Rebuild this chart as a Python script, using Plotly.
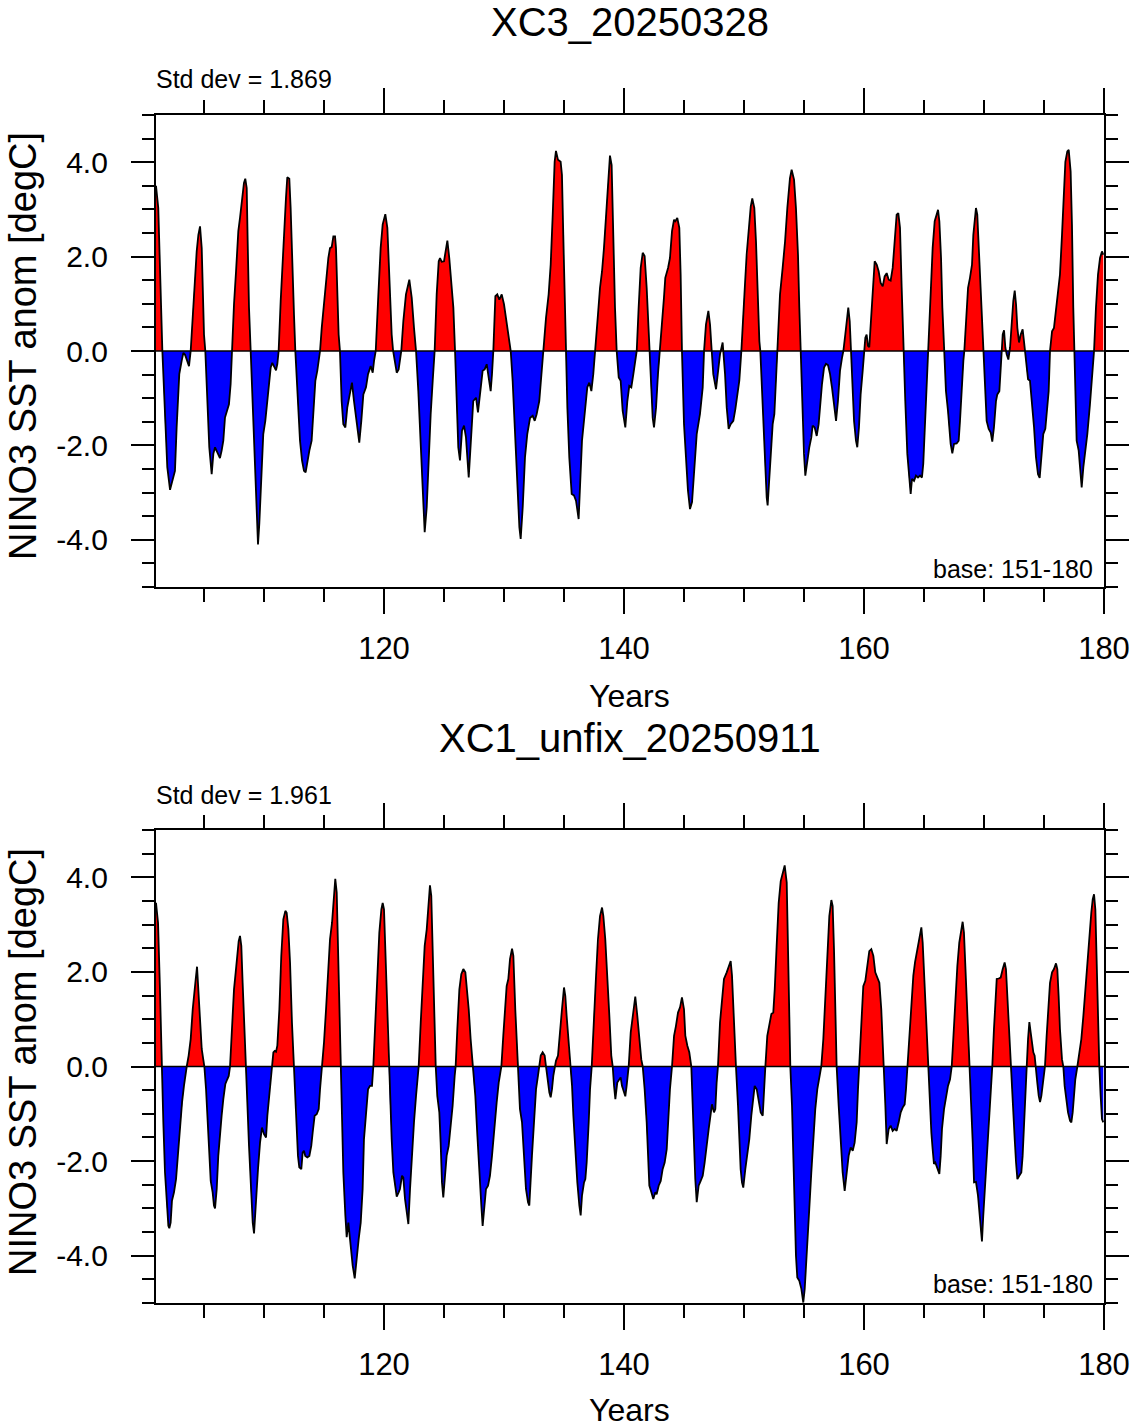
import numpy as np
import plotly.graph_objects as go

# ---------------- data (years, Nino3 SST anomaly degC) ----------------
t1 = [101.0, 101.19, 101.53, 101.75, 101.94, 102.17, 102.39, 102.58, 102.72, 102.94, 103.14, 103.28, 103.42, 103.61, 103.75, 103.89, 104.11, 104.25, 104.39, 104.53, 104.67, 104.81, 104.89, 105.0, 105.11,
      105.28, 105.44, 105.64, 105.78, 105.92, 106.19, 106.33, 106.47, 106.61, 106.75, 106.89, 107.08, 107.22, 107.33, 107.5, 107.67, 107.86, 108.0, 108.17, 108.33, 108.44, 108.56, 108.64, 108.75, 108.89,
      109.06, 109.22, 109.39, 109.5, 109.61, 109.78, 109.94, 110.11, 110.22, 110.36, 110.56, 110.69, 110.83, 111.0, 111.11, 111.22, 111.39, 111.56, 111.69, 111.83, 111.94, 112.11, 112.22, 112.39, 112.5, 112.61,
      112.81, 113.0, 113.17, 113.33, 113.47, 113.61, 113.78, 113.97, 114.11, 114.28, 114.44, 114.56, 114.67, 114.81, 114.94, 115.08, 115.22, 115.36, 115.5, 115.64, 115.78, 115.92, 116.0, 116.11, 116.22, 116.33,
      116.47, 116.61, 116.78, 116.94, 117.17, 117.33, 117.5, 117.72, 117.94, 118.11, 118.28, 118.5, 118.67, 118.89, 119.06, 119.17, 119.31, 119.53, 119.72, 119.89, 120.11, 120.28, 120.44, 120.64, 120.76,
      120.92, 121.06, 121.22, 121.33, 121.44, 121.61, 121.83, 122.11, 122.31, 122.5, 122.67, 122.86, 123.06, 123.22, 123.39, 123.56, 123.72, 123.89, 124.06, 124.22, 124.39, 124.56, 124.67, 124.81, 125.0, 125.17, 125.28, 125.44, 125.61, 125.78, 125.92,
      126.06, 126.19, 126.33, 126.5, 126.67, 126.83, 127.06, 127.22, 127.44, 127.67, 127.83, 128.0, 128.22, 128.39, 128.56, 128.72, 128.89, 129.0, 129.11, 129.28, 129.44, 129.61, 129.81, 130.0, 130.22, 130.44, 130.56,
      130.72, 130.92, 131.11, 131.28, 131.39, 131.56, 131.75, 131.94, 132.17, 132.39, 132.56, 132.72, 132.94, 133.11, 133.28, 133.5, 133.72, 133.89, 134.06, 134.22, 134.33, 134.5, 134.72, 134.83, 134.94, 135.06, 135.14,
      135.28, 135.44, 135.64, 135.83, 136.0, 136.22, 136.33, 136.5, 136.72, 136.94, 137.11, 137.28, 137.44, 137.61, 137.83, 138.0, 138.17, 138.33, 138.5, 138.67, 138.83, 138.97, 139.11, 139.25, 139.39,
      139.56, 139.72, 139.89, 140.11, 140.28, 140.44, 140.61, 140.78, 140.94, 141.06, 141.22, 141.39, 141.56, 141.72, 141.89, 142.03, 142.11, 142.28, 142.39, 142.5, 142.67, 142.83, 143.0, 143.17, 143.33, 143.44, 143.67, 143.83, 144.0, 144.17, 144.28, 144.44, 144.61, 144.72, 144.83,
      145.0, 145.17, 145.33, 145.5, 145.67, 145.83, 146.06, 146.33, 146.56, 146.67, 146.83, 147.03, 147.17, 147.31, 147.44, 147.67, 147.83, 148.0, 148.22, 148.42, 148.56, 148.72, 148.89, 149.11, 149.28, 149.44, 149.61, 149.78, 149.94, 150.08, 150.22, 150.39, 150.56, 150.69, 150.86, 151.0, 151.14, 151.28, 151.36,
      151.5, 151.61, 151.75, 151.89, 151.97, 152.11, 152.25, 152.39, 152.53, 152.67, 152.81, 153.0, 153.22, 153.42, 153.61, 153.83, 153.97, 154.17, 154.33, 154.5, 154.61, 154.72, 154.89, 155.0, 155.11, 155.28, 155.44, 155.61, 155.72, 155.89, 156.06, 156.22, 156.33, 156.5, 156.67, 156.83, 157.0, 157.17, 157.33, 157.5, 157.67, 157.83, 158.0, 158.17, 158.28,
      158.44, 158.58, 158.69, 158.81, 158.92, 159.06, 159.17, 159.33, 159.44, 159.58, 159.72, 159.89, 160.0, 160.11, 160.22, 160.33, 160.44, 160.56, 160.72, 160.89, 161.06, 161.22, 161.39, 161.56, 161.72, 161.89, 162.06, 162.22, 162.39, 162.56, 162.72, 162.86, 163.0, 163.14, 163.28,
      163.44, 163.61, 163.78, 163.89, 164.0, 164.17, 164.33, 164.5, 164.67, 164.83, 164.94, 165.08, 165.22, 165.36, 165.56, 165.72, 165.89, 166.06, 166.17, 166.28, 166.42, 166.53, 166.67, 166.83, 167.0, 167.11, 167.22, 167.36, 167.5, 167.72, 167.89, 168.0, 168.14, 168.28, 168.36,
      168.5, 168.67, 168.83, 169.0, 169.11, 169.22, 169.33, 169.44, 169.56, 169.72, 169.89, 169.97, 170.11, 170.22, 170.39, 170.56, 170.69, 170.83, 171.0, 171.11, 171.28, 171.39, 171.47, 171.56, 171.67, 171.78, 171.89, 172.03, 172.17, 172.31, 172.44, 172.56, 172.67, 172.78, 172.92, 173.06, 173.22, 173.33, 173.42,
      173.56, 173.67, 173.83, 174.0, 174.17, 174.33, 174.5, 174.64, 174.78, 174.94, 175.11, 175.22, 175.39, 175.5, 175.67, 175.83, 176.0, 176.17, 176.33, 176.5, 176.67, 176.78, 176.94, 177.06, 177.22, 177.33, 177.44, 177.53, 177.61, 177.72, 177.89, 178.0, 178.14, 178.28, 178.44, 178.61, 178.83, 179.0, 179.17, 179.33, 179.5, 179.67, 179.83, 179.94]
v1 = [3.5, 3.03, 0, -1.55, -2.46, -2.94, -2.75, -2.54, -1.62, -0.49, -0.21, -0.04, -0.08, -0.21, -0.32, 0, 1.06, 1.62, 2.11, 2.46, 2.64, 2.18, 1.2, 0.35, 0,
      -0.99, -2.04, -2.61, -2.18, -2.04, -2.18, -2.27, -2.11, -1.9, -1.41, -1.27, -1.13, -0.7, 0, 0.99, 1.69, 2.54, 2.82, 3.17, 3.56, 3.65, 3.45, 2.32, 0.92, 0,
      -1.2, -2.25, -3.45, -4.1, -3.66, -2.68, -1.76, -1.48, -1.2, -0.85, -0.35, -0.25, -0.32, -0.41, -0.28, 0, 1.06, 2.04, 2.64, 3.24, 3.68, 3.65, 3.03, 1.9, 0.77, 0,
      -1.06, -1.9, -2.32, -2.54, -2.57, -2.32, -2.11, -1.9, -1.34, -0.63, -0.42, -0.21, 0, 0.49, 0.85, 1.2, 1.62, 1.97, 2.18, 2.2, 2.43, 2.43, 2.18, 1.2, 0.35, 0,
      -1.06, -1.55, -1.62, -1.2, -0.85, -0.67, -1.06, -1.48, -1.94, -1.48, -0.92, -0.77, -0.49, -0.32, -0.46, -0.21, 0, 1.2, 2.18, 2.68, 2.9, 2.61, 1.48, 0.35, 0,
      -0.21, -0.46, -0.39, -0.21, 0, 0.63, 1.2, 1.51, 1.13, 0.49, 0, -0.85, -1.9, -2.96, -3.84, -3.31, -2.25, -1.34, -0.63, 0, 1.2, 1.9, 1.97, 1.89, 1.9, 2.18, 2.34, 1.97, 1.48, 0.92, 0,
      -1.2, -2.04, -2.32, -1.69, -1.58, -1.83, -2.68, -1.9, -1.06, -0.99, -1.3, -0.92, -0.42, -0.39, -0.28, -0.56, -0.85, -0.49, 0, 1.16, 1.2, 1.09, 1.2, 0.99, 0.63, 0.21, 0,
      -0.63, -1.76, -2.96, -3.73, -3.98, -3.31, -2.25, -1.76, -1.42, -1.37, -1.48, -1.34, -1.06, -0.49, 0, 0.7, 1.2, 1.83, 2.89, 4.01, 4.24, 4.05, 4.01, 3.73, 2.46, 0.92, 0,
      -1.2, -2.25, -3.03, -3.06, -3.17, -3.56, -2.96, -1.9, -1.34, -0.77, -0.67, -0.85, -0.49, 0, 0.77, 1.34, 1.69, 2.18, 2.89, 3.59, 4.14, 3.94, 2.32, 0.92, 0,
      -0.56, -0.63, -1.27, -1.62, -1.06, -0.74, -0.77, -0.49, -0.21, 0, 0.92, 1.76, 2.08, 2.01, 1.34, 0.49, 0, -0.99, -1.41, -1.62, -1.2, -0.49, 0, 0.63, 1.13, 1.55, 1.76, 1.97, 2.54, 2.78, 2.75, 2.82, 2.61, 1.62, 0,
      -1.55, -2.32, -2.96, -3.35, -3.2, -2.61, -1.76, -1.34, -0.77, 0, 0.56, 0.85, 0.56, 0, -0.49, -0.81, -0.42, -0.07, 0.18, -0.49, -1.2, -1.65, -1.55, -1.48, -1.23, -0.92, -0.63, 0, 0.92, 1.41, 2.04, 2.61, 3.06, 3.23, 3.03, 2.32, 1.2, 0.21, 0,
      -0.85, -1.62, -2.46, -3.1, -3.27, -2.61, -1.97, -1.55, -1.34, -0.63, 0, 1.2, 1.76, 2.32, 3.03, 3.66, 3.84, 3.63, 3.03, 2.04, 0.92, 0, -1.2, -2.18, -2.64, -2.29, -2.04, -1.83, -1.58, -1.62, -1.8, -1.55, -1.2, -0.7, -0.35, -0.27, -0.3, -0.49, -0.77, -1.2, -1.48, -1.06, -0.42, -0.14, 0,
      0.35, 0.77, 0.92, 0.63, 0, -0.7, -1.48, -1.9, -2.04, -1.62, -0.92, -0.42, 0, 0.28, 0.35, 0.11, 0.08, 0.56, 1.34, 1.9, 1.83, 1.69, 1.44, 1.37, 1.58, 1.65, 1.51, 1.49, 1.76, 2.39, 2.89, 2.92, 2.61, 1.34, 0,
      -1.06, -2.18, -2.82, -3.03, -2.71, -2.75, -2.64, -2.68, -2.64, -2.68, -2.39, -1.55, -0.7, 0, 1.2, 2.18, 2.75, 2.89, 2.99, 2.75, 1.97, 0.92, 0, -0.85, -1.27, -1.69, -1.97, -2.17, -1.97, -1.96, -1.9, -1.48, -0.77, -0.21, 0,
      0.63, 1.34, 1.55, 1.83, 2.46, 2.82, 3.03, 2.89, 2.18, 1.2, 0.35, 0, -0.92, -1.48, -1.65, -1.73, -1.92, -1.62, -1.06, -0.92, -0.85, -0.35, 0, 0.35, 0.44, 0.07, -0.07, -0.18, 0.07, 0.63, 1.06, 1.28, 0.99, 0.49, 0.18, 0.35, 0.46, 0.21, 0,
      -0.42, -0.6, -0.63, -1.06, -1.62, -2.25, -2.61, -2.69, -2.32, -1.76, -1.65, -1.34, -0.85, 0, 0.42, 0.49, 0.92, 1.27, 1.62, 2.46, 3.45, 4.01, 4.23, 4.26, 3.8, 2.68, 0.92, 0, -0.85, -1.9, -2.11, -2.46, -2.89, -2.46, -2.11, -1.76, -1.13, -0.63, 0, 0.92, 1.62, 1.97, 2.11, 2.04]

t2 = [101.0, 101.17, 101.33, 101.47, 101.61, 101.75, 101.89, 102.03, 102.11, 102.22, 102.33, 102.5, 102.67, 102.83, 103.0, 103.17, 103.33, 103.5, 103.56, 103.72, 103.89, 104.06, 104.17, 104.31, 104.42, 104.56, 104.67, 104.81, 104.94, 105.03,
      105.17, 105.33, 105.44, 105.56, 105.72, 105.83, 105.92, 106.06, 106.19, 106.33, 106.47, 106.61, 106.78, 106.94, 107.06, 107.17, 107.33, 107.5, 107.64, 107.78, 107.89, 108.0, 108.11, 108.22, 108.33, 108.47,
      108.61, 108.75, 108.89, 109.06, 109.17, 109.33, 109.5, 109.67, 109.83, 110.0, 110.17, 110.28, 110.44, 110.56, 110.67, 110.78, 110.89, 111.0, 111.11, 111.28, 111.44, 111.61, 111.78, 111.89, 112.03, 112.17, 112.33, 112.5,
      112.67, 112.83, 112.94, 113.11, 113.22, 113.33, 113.44, 113.61, 113.78, 113.94, 114.06, 114.22, 114.39, 114.56, 114.67, 114.83, 115.0, 115.17, 115.33, 115.5, 115.67, 115.83, 115.94, 116.06, 116.17, 116.28, 116.39,
      116.5, 116.61, 116.78, 116.89, 117.03, 117.22, 117.39, 117.56, 117.72, 117.89, 118.06, 118.22, 118.33, 118.5, 118.67, 118.83, 119.0, 119.11, 119.28, 119.44, 119.61, 119.78, 119.89, 120.0, 120.11, 120.22, 120.39,
      120.5, 120.64, 120.78, 120.94, 121.06, 121.22, 121.33, 121.5, 121.61, 121.75, 121.89, 122.03, 122.17, 122.31, 122.5, 122.67, 122.89, 123.06, 123.22, 123.39, 123.56, 123.72, 123.83, 123.94, 124.06, 124.17, 124.31,
      124.44, 124.61, 124.72, 124.83, 124.94, 125.06, 125.22, 125.39, 125.56, 125.72, 125.89, 125.97, 126.11, 126.28, 126.44, 126.61, 126.78, 126.89, 127.06, 127.22, 127.39,
      127.5, 127.61, 127.78, 127.94, 128.11, 128.22, 128.33, 128.5, 128.67, 128.83, 129.0, 129.17, 129.39, 129.56, 129.78, 129.94, 130.11, 130.22, 130.36, 130.5, 130.67, 130.78, 130.94, 131.11, 131.19,
      131.33, 131.5, 131.67, 131.83, 132.0, 132.11, 132.33, 132.5, 132.67, 132.83, 132.94, 133.06, 133.22, 133.39, 133.5, 133.67, 133.78, 133.89, 134.0, 134.11, 134.22, 134.33, 134.5, 134.67, 134.83, 135.0, 135.11, 135.22, 135.36, 135.5,
      135.67, 135.78, 135.94, 136.11, 136.28, 136.39, 136.5, 136.67, 136.78, 136.89, 137.06, 137.17, 137.31, 137.5, 137.67, 137.83, 138.0, 138.17, 138.28, 138.44, 138.61, 138.78, 138.94, 139.06,
      139.17, 139.28, 139.44, 139.61, 139.72, 139.83, 140.0, 140.11, 140.22, 140.39, 140.56, 140.72, 140.94, 141.11, 141.28, 141.44, 141.56, 141.72, 141.89, 142.0, 142.11, 142.28, 142.44, 142.61, 142.72, 142.89, 143.06, 143.22, 143.39, 143.56, 143.67, 143.83, 144.0,
      144.17, 144.33, 144.5, 144.67, 144.83, 145.0, 145.11, 145.28, 145.44, 145.61, 145.72, 145.83, 145.94, 146.06, 146.22, 146.39, 146.56, 146.72, 146.89, 147.06, 147.17, 147.33, 147.5, 147.61, 147.72, 147.83, 148.0, 148.17, 148.33, 148.56, 148.72, 148.89, 149.0, 149.11, 149.22, 149.33,
      149.5, 149.61, 149.72, 149.83, 149.94, 150.11, 150.28, 150.44, 150.61, 150.78, 150.89, 151.06, 151.22, 151.39, 151.56, 151.67, 151.78, 151.94, 152.11, 152.28, 152.44, 152.56, 152.72, 152.89, 153.06, 153.22, 153.39, 153.56, 153.67, 153.78, 153.86,
      154.0, 154.11, 154.22, 154.33, 154.44, 154.61, 154.78, 154.94, 155.06, 155.17, 155.28, 155.44, 155.61, 155.78, 155.94, 156.11, 156.28, 156.44, 156.61, 156.78, 156.94, 157.11, 157.28, 157.39, 157.5, 157.61, 157.72,
      157.89, 158.06, 158.22, 158.39, 158.56, 158.72, 158.89, 159.06, 159.22, 159.39, 159.5, 159.61, 159.78, 159.94, 160.11, 160.28, 160.44, 160.61, 160.78, 160.94, 161.11, 161.28, 161.44, 161.56, 161.64,
      161.78, 161.89, 162.06, 162.22, 162.39, 162.56, 162.72, 162.89, 163.06, 163.22, 163.39, 163.5, 163.61, 163.78, 163.97, 164.11, 164.25, 164.44, 164.61, 164.78, 164.89, 165.0, 165.11, 165.22, 165.36,
      165.5, 165.61, 165.72, 165.83, 165.94, 166.11, 166.28, 166.39, 166.5, 166.67, 166.83, 167.0, 167.17, 167.31, 167.44, 167.61, 167.78, 167.94, 168.11, 168.22, 168.33, 168.44, 168.56, 168.69, 168.83,
      168.94, 169.06, 169.17, 169.33, 169.5, 169.61, 169.72, 169.83, 169.94, 170.11, 170.28, 170.39, 170.5, 170.61, 170.69, 170.83, 170.94, 171.06, 171.22, 171.39, 171.56, 171.72, 171.83, 171.94, 172.06, 172.22,
      172.33, 172.44, 172.56, 172.67, 172.78, 172.94, 173.11, 173.22, 173.33, 173.44, 173.56, 173.67, 173.78, 173.89, 174.0, 174.11, 174.22, 174.33, 174.44, 174.56, 174.67, 174.78, 174.89, 175.0, 175.08, 175.22, 175.39, 175.5, 175.67, 175.83, 176.0, 176.11, 176.22, 176.33, 176.5, 176.61,
      176.72, 176.83, 177.0, 177.17, 177.28, 177.39, 177.5, 177.61, 177.78, 177.94, 178.11, 178.28, 178.44, 178.61, 178.78, 178.94, 179.06, 179.17, 179.28, 179.39, 179.5, 179.61, 179.72, 179.83, 179.94]
v2 = [3.46, 3.04, 1.63, 0, -1.18, -2.24, -2.94, -3.37, -3.42, -3.3, -2.84, -2.66, -2.38, -1.82, -1.32, -0.76, -0.41, -0.06, 0, 0.23, 0.58, 1.21, 1.56, 1.85, 2.11, 1.49, 0.93, 0.37, 0.15, 0,
      -0.48, -1.18, -1.82, -2.42, -2.66, -2.94, -3.0, -2.59, -1.89, -1.39, -1.04, -0.69, -0.37, -0.27, -0.2, 0, 0.79, 1.63, 1.99, 2.48, 2.65, 2.76, 2.55, 1.77, 0.93, 0,
      -0.76, -1.68, -2.59, -3.3, -3.53, -2.8, -2.17, -1.61, -1.29, -1.43, -1.5, -1.04, -0.55, -0.2, 0, 0.3, 0.33, 0.31, 0.44, 1.21, 2.34, 3.11, 3.29, 3.25, 2.9, 2.2, 0.93, 0,
      -0.83, -1.89, -2.13, -2.17, -1.82, -1.78, -1.89, -1.92, -1.89, -1.68, -1.39, -1.04, -1.01, -0.9, -0.48, 0, 0.51, 1.21, 1.99, 2.69, 3.04, 3.75, 3.97, 3.68, 2.48, 0.93, 0,
      -0.83, -2.24, -3.15, -3.61, -3.3, -3.79, -4.21, -4.48, -4.0, -3.65, -3.3, -2.59, -1.54, -0.97, -0.48, -0.41, -0.41, 0, 0.93, 1.99, 2.83, 3.32, 3.46, 3.32, 2.48, 1.28, 0,
      -0.83, -1.54, -2.24, -2.59, -2.75, -2.66, -2.59, -2.31, -2.35, -2.8, -3.08, -3.33, -2.59, -1.89, -1.18, -0.62, 0, 0.93, 1.85, 2.55, 2.9, 3.54, 3.83, 3.61, 2.34, 0.93, 0,
      -0.62, -0.97, -1.61, -2.45, -2.77, -2.45, -1.89, -1.68, -1.25, -0.83, -0.2, 0, 0.79, 1.63, 1.95, 2.06, 1.99, 1.7, 1.21, 0.58, 0,
      -0.41, -0.62, -1.46, -2.31, -2.94, -3.37, -3.01, -2.59, -2.52, -2.31, -1.89, -1.32, -0.76, -0.34, 0, 0.65, 1.35, 1.7, 1.85, 2.27, 2.49, 2.34, 1.21, 0.23, 0,
      -0.9, -1.18, -1.89, -2.59, -2.87, -2.94, -1.89, -1.18, -0.48, -0.2, 0, 0.23, 0.3, 0.23, 0, -0.34, -0.55, -0.65, -0.48, -0.2, 0, 0.12, 0.23, 0.79, 1.21, 1.67, 1.49, 1.07, 0.58, 0,
      -0.41, -1.04, -1.75, -2.45, -2.94, -3.15, -2.73, -2.45, -2.38, -2.03, -1.18, -0.48, 0, 1.21, 1.92, 2.69, 3.18, 3.36, 3.18, 2.69, 1.99, 1.07, 0.23, 0,
      -0.41, -0.69, -0.34, -0.27, -0.23, -0.41, -0.55, -0.63, -0.41, 0, 0.72, 1.07, 1.48, 1.07, 0.51, 0.15, 0, -0.48, -1.18, -1.89, -2.52, -2.66, -2.8, -2.66, -2.7, -2.52, -2.42, -2.17, -2.03, -1.75, -1.18, -0.48, 0,
      0.65, 0.86, 1.14, 1.25, 1.46, 1.21, 0.65, 0.44, 0.3, 0, -0.83, -1.61, -2.38, -2.87, -2.52, -2.42, -2.31, -2.03, -1.61, -1.32, -1.11, -0.8, -0.97, -0.9, -0.34, 0, 0.93, 1.42, 1.85, 1.99, 2.13, 2.23, 1.92, 1.21, 0.58, 0,
      -0.83, -1.54, -2.17, -2.45, -2.56, -2.17, -1.89, -1.54, -1.04, -0.62, -0.41, -0.48, -0.69, -0.97, -1.04, -0.62, 0, 0.65, 0.93, 1.11, 1.14, 1.63, 2.55, 3.46, 3.92, 4.1, 4.25, 3.89, 2.34, 0.93, 0,
      -0.83, -1.89, -2.94, -4.0, -4.46, -4.53, -4.7, -4.99, -4.7, -4.14, -3.65, -3.01, -2.24, -1.54, -0.9, -0.48, -0.2, 0, 0.58, 1.49, 2.34, 3.18, 3.52, 3.39, 2.48, 1.21, 0,
      -0.83, -1.61, -2.24, -2.63, -2.31, -1.89, -1.71, -1.78, -1.61, -1.18, -0.48, 0, 0.93, 1.7, 1.81, 2.13, 2.44, 2.48, 2.34, 1.99, 1.88, 1.77, 1.21, 0.58, 0,
      -0.83, -1.64, -1.32, -1.25, -1.36, -1.32, -1.36, -1.18, -0.97, -0.87, -0.8, -0.48, 0, 0.65, 1.49, 1.92, 2.2, 2.48, 2.69, 2.94, 2.62, 1.99, 1.21, 0.51, 0,
      -0.83, -1.39, -1.75, -2.06, -2.03, -2.17, -2.27, -1.89, -1.32, -0.9, -0.62, -0.41, -0.27, 0, 0.58, 1.49, 2.13, 2.62, 2.9, 3.06, 2.83, 2.2, 1.49, 0.58, 0,
      -0.69, -1.61, -2.45, -2.44, -2.73, -3.01, -3.44, -3.7, -3.15, -2.45, -1.89, -1.46, -0.9, -0.34, 0, 0.79, 1.42, 1.85, 1.86, 1.88, 2.06, 2.2, 2.06, 1.49, 0.79, 0,
      -0.48, -0.97, -1.54, -2.03, -2.38, -2.31, -2.24, -1.89, -1.18, -0.48, 0, 0.58, 0.94, 0.72, 0.51, 0.3, 0.23, 0, -0.34, -0.62, -0.75, -0.62, -0.41, -0.13, 0, 0.65, 1.21, 1.77, 1.99, 2.06, 2.18, 2.06, 1.49, 0.79, 0.15, 0,
      -0.41, -0.69, -0.97, -1.15, -1.18, -0.97, -0.62, -0.27, 0, 0.3, 0.58, 1.07, 1.63, 2.2, 2.69, 3.25, 3.54, 3.64, 3.32, 2.2, 0.93, 0, -0.62, -1.11, -1.18]

titles = ["XC3_20250328", "XC1_unfix_20250911"]
std_labels = ["Std dev = 1.869", "Std dev = 1.961"]
base_label = "base: 151-180"
x_label = "Years"
y_label = "NINO3 SST anom [degC]"
x_tick_vals = [120, 140, 160, 180]
x_tick_text = ["120", "140", "160", "180"]
y_tick_vals = [-4, -2, 0, 2, 4]
y_tick_text = ["-4.0", "-2.0", "0.0", "2.0", "4.0"]

# ---------------- layout geometry ----------------
W, H = 1133, 1428
FONT = "Liberation Sans, Arial, Helvetica, sans-serif"
px = lambda x: x / W
py = lambda y: 1 - y / H
x_dom = [px(156), px(1104)]
y_doms = [[py(587), py(115)], [py(1303), py(830)]]
panel_mid = [346, 1062]


def split_sign(t, v):
    xs, ys = [t[0]], [v[0]]
    for i in range(1, len(t)):
        a, b = v[i - 1], v[i]
        if a * b < 0:
            xs.append(t[i - 1] + (t[i] - t[i - 1]) * a / (a - b))
            ys.append(0.0)
        xs.append(t[i])
        ys.append(b)
    ys = np.array(ys, dtype=float)
    return xs, np.maximum(ys, 0), np.minimum(ys, 0)


fig = go.Figure()
series = [(t1, v1), (t2, v2)]
for k, (t, v) in enumerate(series):
    xa = "x" if k == 0 else "x2"
    ya = "y" if k == 0 else "y2"
    xs, pos, neg = split_sign(t, v)
    fig.add_trace(go.Scatter(x=xs, y=pos, mode="lines", fill="tozeroy", fillcolor="#ff0000",
                             line=dict(width=0, color="#ff0000"), xaxis=xa, yaxis=ya, showlegend=False, hoverinfo="skip"))
    fig.add_trace(go.Scatter(x=xs, y=neg, mode="lines", fill="tozeroy", fillcolor="#0000ff",
                             line=dict(width=0, color="#0000ff"), xaxis=xa, yaxis=ya, showlegend=False, hoverinfo="skip"))
    fig.add_trace(go.Scatter(x=t, y=v, mode="lines", line=dict(color="black", width=1.8),
                             xaxis=xa, yaxis=ya, showlegend=False))
    fig.add_shape(type="line", xref=f"{xa} domain", yref=ya, x0=0, x1=1, y0=0, y1=0,
                  line=dict(color="black", width=1.5), layer="above")

axis_common = dict(showline=True, linecolor="black", linewidth=2.2, mirror="ticks", ticks="outside",
                   tickcolor="black", tickwidth=2, showgrid=False, zeroline=False, automargin=False,
                   tickfont=dict(family=FONT, size=30, color="black"))

layout = dict(width=W, height=H, margin=dict(l=0, r=0, t=0, b=0, pad=0, autoexpand=False), autosize=False,
              plot_bgcolor="white", paper_bgcolor="white", showlegend=False,
              font=dict(family=FONT, color="black"))
for k in range(2):
    xn = "xaxis" if k == 0 else "xaxis2"
    yn = "yaxis" if k == 0 else "yaxis2"
    layout[xn] = dict(axis_common, domain=x_dom, range=[101, 180], anchor="y" if k == 0 else "y2",
                      tickmode="array", tickvals=x_tick_vals, ticktext=x_tick_text, ticklen=25,
                      ticklabelstandoff=8, tickfont=dict(family=FONT, size=31, color="black"),
                      minor=dict(ticks="outside", dtick=5, tick0=0, ticklen=13, tickwidth=1.5, tickcolor="black"))
    layout[yn] = dict(axis_common, domain=y_doms[k], range=[-5, 5], anchor="x" if k == 0 else "x2",
                      tickmode="array", tickvals=y_tick_vals, ticktext=y_tick_text, ticklen=23,
                      ticklabelstandoff=17,
                      minor=dict(ticks="outside", dtick=0.5, tick0=0, ticklen=12, tickwidth=1.5, tickcolor="black"))

ann = []
for k in range(2):
    ann.append(dict(text=titles[k], x=px(630), y=py(22 if k == 0 else 738), xref="paper", yref="paper",
                    showarrow=False, xanchor="center", yanchor="middle", font=dict(family=FONT, size=40)))
    ann.append(dict(text=std_labels[k], x=px(154), y=py(79 if k == 0 else 795), xref="paper", yref="paper",
                    showarrow=False, xanchor="left", yanchor="middle", font=dict(family=FONT, size=25)))
    ann.append(dict(text=base_label, x=px(1095), y=py(569 if k == 0 else 1284), xref="paper", yref="paper",
                    showarrow=False, xanchor="right", yanchor="middle", font=dict(family=FONT, size=25)))
    ann.append(dict(text=x_label, x=px(630), y=py(696 if k == 0 else 1410), xref="paper", yref="paper",
                    showarrow=False, xanchor="center", yanchor="middle", font=dict(family=FONT, size=32)))
    ann.append(dict(text=y_label, x=px(23), y=py(panel_mid[k]), xref="paper", yref="paper", textangle=-90,
                    showarrow=False, xanchor="center", yanchor="middle", font=dict(family=FONT, size=38)))
layout["annotations"] = ann
fig.update_layout(**layout)

post = ("document.documentElement.style.margin='0';document.documentElement.style.padding='0';"
        "document.documentElement.style.overflow='hidden';"
        "document.body.style.margin='0';document.body.style.padding='0';document.body.style.overflow='hidden';")

fig.write_html("out.html", include_plotlyjs=True, full_html=True,
               default_width=f"{W}px", default_height=f"{H}px",
               config={"responsive": False, "displayModeBar": False},
               post_script=post)
